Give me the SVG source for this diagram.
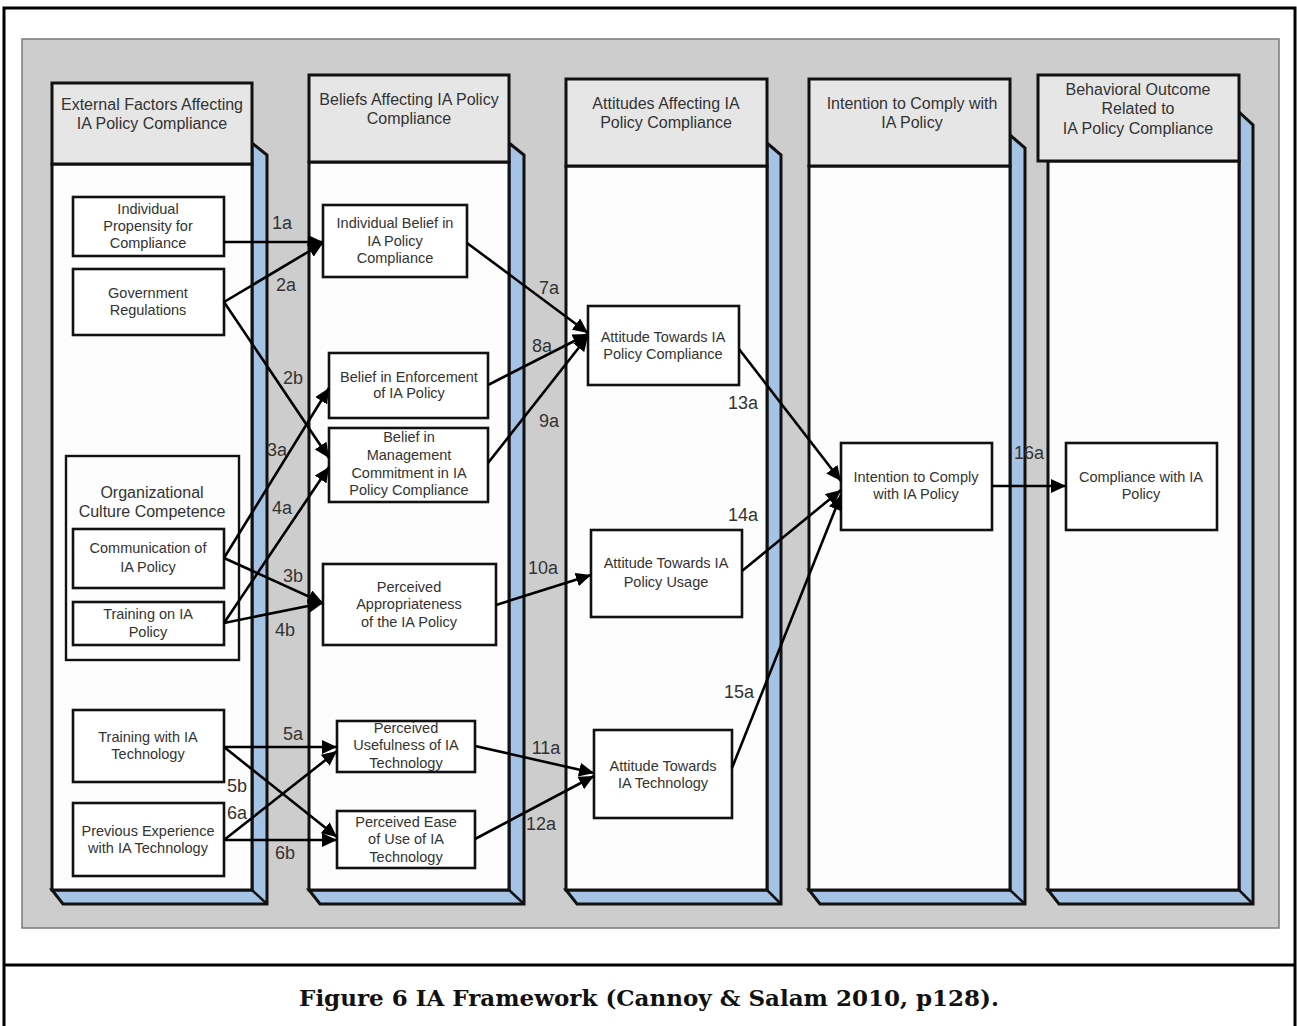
<svg xmlns="http://www.w3.org/2000/svg" width="1297" height="1026" viewBox="0 0 1297 1026">
<defs>
<style>
.frame{fill:#ffffff;stroke:#000;stroke-width:3}
.bg{fill:#cdcdcd;stroke:#7a7a7a;stroke-width:1.5}
.side{fill:#a5c3e4;stroke:#111;stroke-width:3;stroke-linejoin:miter}
.edge{stroke:#111;stroke-width:2.5;fill:none}
.head{fill:#e6e6e6;stroke:#111;stroke-width:3}
.body{fill:#fdfdfd;stroke:#111;stroke-width:3}
.box{fill:#ffffff;stroke:#111;stroke-width:2.6}
.grp{fill:#fdfdfd;stroke:#111;stroke-width:2.4}
.ht{font-family:"Liberation Sans",Arial,sans-serif;font-size:16px;fill:#333;text-anchor:middle}
.bt{font-family:"Liberation Sans",Arial,sans-serif;font-size:14.5px;fill:#333;text-anchor:middle}
.lb{font-family:"Liberation Sans",Arial,sans-serif;font-size:18px;fill:#333;text-anchor:middle}
.cn{stroke:#000;stroke-width:2.6;fill:none;marker-end:url(#ah)}
.cap{font-family:"DejaVu Serif","Liberation Serif",serif;font-size:23px;font-weight:bold;fill:#111;text-anchor:middle}
</style>
<marker id="ah" markerUnits="userSpaceOnUse" markerWidth="16" markerHeight="14" refX="15" refY="7" orient="auto">
<path d="M0,0 L15,7 L0,14 z" fill="#000"/>
</marker>
</defs>

<rect class="frame" x="4" y="8" width="1291" height="1030"/>
<line x1="4" y1="965" x2="1295" y2="965" stroke="#000" stroke-width="3"/>
<rect class="bg" x="22" y="39" width="1257" height="889"/>

<g id="col1">
<polygon class="side" points="252,143 267,155 267,904 63,904 52,890 252,890"/>
<line class="edge" x1="252" y1="890" x2="267" y2="904"/>
<rect class="body" x="52" y="164" width="200" height="726"/>
<rect class="head" x="52" y="83" width="200" height="81"/>
<text class="ht" x="152" y="110">External Factors Affecting</text>
<text class="ht" x="152" y="129">IA Policy Compliance</text>
</g>
<g id="col2">
<polygon class="side" points="509,143 524,155 524,904 320,904 309,890 509,890"/>
<line class="edge" x1="509" y1="890" x2="524" y2="904"/>
<rect class="body" x="309" y="162" width="200" height="728"/>
<rect class="head" x="309" y="75" width="200" height="87"/>
<text class="ht" x="409" y="105">Beliefs Affecting IA Policy</text>
<text class="ht" x="409" y="124">Compliance</text>
</g>
<g id="col3">
<polygon class="side" points="767,143 781,155 781,904 577,904 566,890 767,890"/>
<line class="edge" x1="767" y1="890" x2="781" y2="904"/>
<rect class="body" x="566" y="166" width="201" height="724"/>
<rect class="head" x="566" y="79" width="201" height="87"/>
<text class="ht" x="666" y="109">Attitudes Affecting IA</text>
<text class="ht" x="666" y="128">Policy Compliance</text>
</g>
<g id="col4">
<polygon class="side" points="1010,135 1025,148 1025,904 820,904 809,890 1010,890"/>
<line class="edge" x1="1010" y1="890" x2="1025" y2="904"/>
<rect class="body" x="809" y="166" width="201" height="724"/>
<rect class="head" x="809" y="79" width="201" height="87"/>
<text class="ht" x="912" y="109">Intention to Comply with</text>
<text class="ht" x="912" y="128">IA Policy</text>
</g>
<g id="col5">
<polygon class="side" points="1239,112 1253,125 1253,904 1059,904 1048,890 1239,890"/>
<line class="edge" x1="1239" y1="890" x2="1253" y2="904"/>
<rect class="body" x="1048" y="161" width="191" height="729"/>
<rect class="head" x="1038" y="75" width="201" height="86"/>
<text class="ht" x="1138" y="95">Behavioral Outcome</text>
<text class="ht" x="1138" y="114">Related to</text>
<text class="ht" x="1138" y="134">IA Policy Compliance</text>
</g>

<g id="n-propensity">
<rect class="box" x="73" y="197" width="151" height="59"/>
<text class="bt" x="148" y="214">Individual</text>
<text class="bt" x="148" y="231">Propensity for</text>
<text class="bt" x="148" y="248">Compliance</text>
</g>
<g id="n-government">
<rect class="box" x="73" y="269" width="151" height="66"/>
<text class="bt" x="148" y="298">Government</text>
<text class="bt" x="148" y="315">Regulations</text>
</g>
<g id="n-orgculture">
<rect class="grp" x="66" y="456" width="173" height="204"/>
<text class="ht" x="152" y="498">Organizational</text>
<text class="ht" x="152" y="517">Culture Competence</text>
</g>
<g id="n-communication">
<rect class="box" x="73" y="529" width="151" height="59"/>
<text class="bt" x="148" y="553">Communication of</text>
<text class="bt" x="148" y="572">IA Policy</text>
</g>
<g id="n-trainingpolicy">
<rect class="box" x="73" y="602" width="151" height="43"/>
<text class="bt" x="148" y="619">Training on IA</text>
<text class="bt" x="148" y="637">Policy</text>
</g>
<g id="n-trainingtech">
<rect class="box" x="73" y="710" width="151" height="72"/>
<text class="bt" x="148" y="742">Training with IA</text>
<text class="bt" x="148" y="759">Technology</text>
</g>
<g id="n-experience">
<rect class="box" x="73" y="803" width="151" height="73"/>
<text class="bt" x="148" y="836">Previous Experience</text>
<text class="bt" x="148" y="853">with IA Technology</text>
</g>

<g id="n-indbelief">
<rect class="box" x="323" y="205" width="144" height="72"/>
<text class="bt" x="395" y="228">Individual Belief in</text>
<text class="bt" x="395" y="246">IA Policy</text>
<text class="bt" x="395" y="263">Compliance</text>
</g>
<g id="n-enforcement">
<rect class="box" x="329" y="353" width="159" height="65"/>
<text class="bt" x="409" y="382">Belief in Enforcement</text>
<text class="bt" x="409" y="398">of IA Policy</text>
</g>
<g id="n-management">
<rect class="box" x="329" y="428" width="159" height="74"/>
<text class="bt" x="409" y="442">Belief in</text>
<text class="bt" x="409" y="460">Management</text>
<text class="bt" x="409" y="478">Commitment in IA</text>
<text class="bt" x="409" y="495">Policy Compliance</text>
</g>
<g id="n-appropriateness">
<rect class="box" x="323" y="564" width="173" height="81"/>
<text class="bt" x="409" y="592">Perceived</text>
<text class="bt" x="409" y="609">Appropriateness</text>
<text class="bt" x="409" y="627">of the IA Policy</text>
</g>
<g id="n-usefulness">
<rect class="box" x="337" y="721" width="138" height="51"/>
<text class="bt" x="406" y="733">Perceived</text>
<text class="bt" x="406" y="750">Usefulness of IA</text>
<text class="bt" x="406" y="768">Technology</text>
</g>
<g id="n-ease">
<rect class="box" x="337" y="811" width="138" height="57"/>
<text class="bt" x="406" y="827">Perceived Ease</text>
<text class="bt" x="406" y="844">of Use of IA</text>
<text class="bt" x="406" y="862">Technology</text>
</g>

<g id="n-attcompliance">
<rect class="box" x="588" y="306" width="151" height="79"/>
<text class="bt" x="663" y="342">Attitude Towards IA</text>
<text class="bt" x="663" y="359">Policy Compliance</text>
</g>
<g id="n-attusage">
<rect class="box" x="591" y="530" width="151" height="87"/>
<text class="bt" x="666" y="568">Attitude Towards IA</text>
<text class="bt" x="666" y="587">Policy Usage</text>
</g>
<g id="n-atttech">
<rect class="box" x="594" y="730" width="138" height="88"/>
<text class="bt" x="663" y="771">Attitude Towards</text>
<text class="bt" x="663" y="788">IA Technology</text>
</g>

<g id="n-intention">
<rect class="box" x="841" y="443" width="151" height="87"/>
<text class="bt" x="916" y="482">Intention to Comply</text>
<text class="bt" x="916" y="499">with IA Policy</text>
</g>
<g id="n-compliance">
<rect class="box" x="1066" y="443" width="151" height="87"/>
<text class="bt" x="1141" y="482">Compliance with IA</text>
<text class="bt" x="1141" y="499">Policy</text>
</g>

<g id="connectors">
<path class="cn" d="M224,242 L323,242"/>
<path class="cn" d="M224,302 L323,243"/>
<path class="cn" d="M224,302 L329,458"/>
<path class="cn" d="M224,558 L329,388"/>
<path class="cn" d="M224,623 L329,467"/>
<path class="cn" d="M224,558 L323,603"/>
<path class="cn" d="M224,623 L323,603"/>
<path class="cn" d="M224,747 L337,747"/>
<path class="cn" d="M224,747 L337,837"/>
<path class="cn" d="M224,840 L337,751"/>
<path class="cn" d="M224,840 L337,840"/>
<path class="cn" d="M467,243 L588,333"/>
<path class="cn" d="M488,385 L588,334"/>
<path class="cn" d="M488,463 L588,336"/>
<path class="cn" d="M496,605 L591,575"/>
<path class="cn" d="M475,746 L594,773"/>
<path class="cn" d="M475,839 L594,776"/>
<path class="cn" d="M739,349 L841,481"/>
<path class="cn" d="M742,571 L841,490"/>
<path class="cn" d="M732,768 L841,495"/>
<path class="cn" d="M992,486 L1066,486"/>
<text class="lb" x="282" y="229">1a</text>
<text class="lb" x="286" y="291">2a</text>
<text class="lb" x="293" y="384">2b</text>
<text class="lb" x="277" y="456">3a</text>
<text class="lb" x="282" y="514">4a</text>
<text class="lb" x="293" y="582">3b</text>
<text class="lb" x="285" y="636">4b</text>
<text class="lb" x="293" y="740">5a</text>
<text class="lb" x="237" y="792">5b</text>
<text class="lb" x="237" y="819">6a</text>
<text class="lb" x="285" y="859">6b</text>
<text class="lb" x="549" y="294">7a</text>
<text class="lb" x="542" y="352">8a</text>
<text class="lb" x="549" y="427">9a</text>
<text class="lb" x="543" y="574">10a</text>
<text class="lb" x="546" y="754">11a</text>
<text class="lb" x="541" y="830">12a</text>
<text class="lb" x="743" y="409">13a</text>
<text class="lb" x="743" y="521">14a</text>
<text class="lb" x="739" y="698">15a</text>
<text class="lb" x="1029" y="459">16a</text>
</g>

<text class="cap" x="649" y="1006">Figure 6 IA Framework (Cannoy &amp; Salam 2010, p128).</text>
</svg>
